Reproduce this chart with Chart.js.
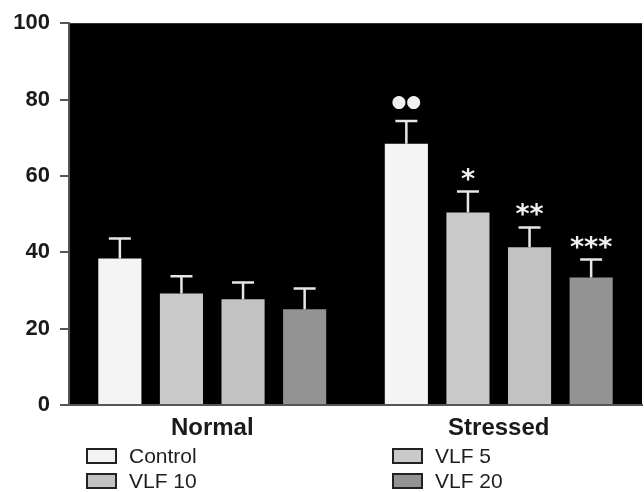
<!DOCTYPE html>
<html>
<head>
<meta charset="utf-8">
<script src="https://cdn.jsdelivr.net/npm/chart.js@4/dist/chart.umd.min.js"></script>
<style>
  html, body { margin: 0; padding: 0; background: #ffffff; }
  canvas { display: block; }
</style>
</head>
<body>
<canvas id="c" width="644" height="492"></canvas>
<script>
// ---- data ----
const categories = ["Normal", "Stressed"];
const seriesNames = ["Control", "VLF 5", "VLF 10", "VLF 20"];
const controlVals = [38.4, 68.4];
const vlf5Vals    = [29.2, 50.4];
const vlf10Vals   = [27.7, 41.3];
const vlf20Vals   = [25.1, 33.4];
const controlErr = [5.2, 6.0];
const vlf5Err    = [4.5, 5.5];
const vlf10Err   = [4.4, 5.2];
const vlf20Err   = [5.4, 4.7];
const controlMarks = ["", "●●"];
const vlf5Marks    = ["", "*"];
const vlf10Marks   = ["", "**"];
const vlf20Marks   = ["", "***"];
const yTicks = [0, 20, 40, 60, 80, 100];

const colors = ["#f4f4f4", "#c9c9c9", "#c2c2c2", "#939393"];
const values = [controlVals, vlf5Vals, vlf10Vals, vlf20Vals];
const errs = [controlErr, vlf5Err, vlf10Err, vlf20Err];
const marks = [controlMarks, vlf5Marks, vlf10Marks, vlf20Marks];

const datasets = seriesNames.map((name, i) => ({
  label: name,
  data: values[i],
  backgroundColor: colors[i],
  borderWidth: 0,
  errors: errs[i],
  marks: marks[i],
  categoryPercentage: 0.86,
  barPercentage: 0.70
}));

const bgPlugin = {
  id: 'bg',
  beforeDraw(chart) {
    const { ctx, chartArea: a } = chart;
    ctx.save();
    ctx.fillStyle = '#ffffff';
    ctx.fillRect(0, 0, chart.width, chart.height);
    ctx.fillStyle = '#000000';
    ctx.fillRect(a.left, a.top, a.right - a.left, a.bottom - a.top);
    ctx.restore();
  }
};

const errPlugin = {
  id: 'errbars',
  afterDatasetsDraw(chart) {
    const { ctx } = chart;
    const ys = chart.scales.y;
    ctx.save();
    chart.data.datasets.forEach((ds, di) => {
      const meta = chart.getDatasetMeta(di);
      meta.data.forEach((bar, j) => {
        const v = ds.data[j], e = ds.errors[j];
        const yTop = ys.getPixelForValue(v + e);
        const yBar = ys.getPixelForValue(v);
        ctx.strokeStyle = '#e6e6e6';
        ctx.lineWidth = 2.5;
        ctx.beginPath();
        ctx.moveTo(bar.x, yBar);
        ctx.lineTo(bar.x, yTop);
        ctx.moveTo(bar.x - 11, yTop);
        ctx.lineTo(bar.x + 11, yTop);
        ctx.stroke();
        const m = ds.marks[j];
        if (m) {
          ctx.fillStyle = '#f0f0f0';
          ctx.textAlign = 'center';
          if (m.indexOf('●') >= 0) {
            ctx.font = '17px "DejaVu Sans"';
            ctx.textBaseline = 'middle';
            ctx.fillText(m, bar.x, yTop - 18);
          } else {
            ctx.font = 'bold 27px "DejaVu Sans"';
            ctx.textBaseline = 'alphabetic';
            ctx.fillText(m, bar.x, yTop - 4);
          }
        }
      });
    });
    ctx.restore();
  }
};

const legendPlugin = {
  id: 'customLegend',
  afterDraw(chart) {
    const { ctx } = chart;
    const colX = [87, 393];
    const rowY = [449, 474];
    ctx.save();
    chart.data.datasets.forEach((ds, i) => {
      const col = i % 2, row = Math.floor(i / 2);
      const x = colX[col], y = rowY[row];
      ctx.fillStyle = ds.backgroundColor;
      ctx.fillRect(x, y, 29, 14);
      ctx.strokeStyle = '#222222';
      ctx.lineWidth = 2;
      ctx.strokeRect(x, y, 29, 14);
      ctx.fillStyle = '#1e1e1e';
      ctx.font = '21px "Liberation Sans", Arial, sans-serif';
      ctx.textAlign = 'left';
      ctx.textBaseline = 'middle';
      ctx.fillText(ds.label, x + 42, y + 8);
    });
    ctx.restore();
  }
};

new Chart(document.getElementById('c'), {
  type: 'bar',
  data: { labels: categories, datasets },
  options: {
    responsive: false,
    animation: false,
    devicePixelRatio: 1,
    layout: { padding: { top: 21, right: 2, left: 0, bottom: 0 } },
    plugins: { legend: { display: false }, tooltip: { enabled: false } },
    scales: {
      x: {
        grid: { display: false },
        border: { display: true, color: '#555555', width: 2 },
        ticks: {
          color: '#1a1a1a',
          padding: 1,
          font: { family: '"Liberation Sans", Arial, sans-serif', size: 24, weight: 'bold' }
        },
        afterFit(scale) { scale.height = 87; }
      },
      y: {
        min: 0, max: 100,
        afterBuildTicks(scale) { scale.ticks = yTicks.map(v => ({ value: v })); },
        grid: { drawOnChartArea: false, drawTicks: true, tickLength: 9, color: '#555555', lineWidth: 2 },
        border: { display: true, color: '#555555', width: 2 },
        ticks: {
          color: '#1a1a1a',
          padding: 10,
          font: { family: '"Liberation Sans", Arial, sans-serif', size: 22, weight: 'bold' }
        },
        afterFit(scale) { scale.width = 69; }
      }
    }
  },
  plugins: [bgPlugin, errPlugin, legendPlugin]
});
</script>
</body>
</html>
